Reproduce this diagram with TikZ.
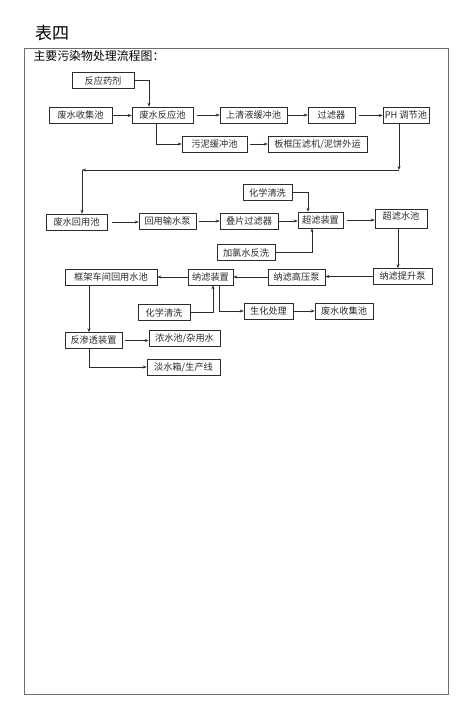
\documentclass[tikz,border=0pt]{standalone}
\usepackage{fontspec}
\usepackage{tikz}
\usetikzlibrary{arrows.meta,positioning,calc}
\newfontfamily\cjk{Noto Sans CJK SC}
\definecolor{ink}{HTML}{2B2B2B}
\definecolor{frame}{HTML}{6E6E6E}

\begin{document}
\begin{tikzpicture}[x=1pt,y=-1pt,font=\cjk\fontsize{9.2}{11}\selectfont,
    box/.style={draw=ink,line width=0.6pt,minimum width=#1,minimum height=16pt,inner sep=1.5pt,text=ink},
    arr/.style={-{Stealth[length=4pt,width=3pt]},ink,line width=0.55pt}]
  \useasboundingbox (0,0) rectangle (476,717);
  % heading and frame
  \node (title) at (52,33) {\fontsize{17}{19}\selectfont 表四};
  \draw[frame,line width=0.7pt] (24,48) rectangle (448,694);
  \node[anchor=west] (caption) at (30,56) {\fontsize{11.9}{13}\selectfont 主要污染物处理流程图：};
  % first stage
  \node[box=62] (yj) at (103,80.5) {反应药剂};
  \node[box=63] (sj1) at (80.5,115.5) {废水收集池};
  \node[box=61] (fy) at (162.5,115) {废水反应池};
  \node[box=67] (sq) at (253.5,115) {上清液缓冲池};
  \node[box=47] (gl) at (331.5,115.5) {过滤器};
  \node[box=46] (ph) at (406,115) {PH 调节池};
  \node[box=65] (wn) at (214.5,144) {污泥缓冲池};
  \node[box=99] (bk) at (317.5,144) {板框压滤机/泥饼外运};
  \draw[arr] (yj.east) -| ([xshift=-13.5]fy.north);
  \draw[arr] (sj1.east) -- (sj1.east -| fy.west);
  \draw[arr,shorten <=4pt] (fy.east) -- (fy.east -| sq.west);
  \draw[arr] (sq.east) -- (sq.east -| gl.west);
  \draw[arr,shorten <=4pt] (gl.east) -- (gl.east -| ph.west);
  \draw[arr] ([xshift=-6.5]fy.south) |- (wn.west);
  \draw[arr,shorten <=3pt] (wn.east) -- (wn.east -| bk.west);
  % back to the left
  \coordinate (c1) at (399,170);
  \coordinate (c2) at (82,170);
  \node[box=61] (hy) at (76.5,222) {废水回用池};
  \draw[arr] (ph.south -| c1) -- (c1);
  \draw[arr] (c1) -- (c2);
  \draw[arr] (c2) -- (c2 |- hy.north);
  % ultrafiltration
  \node[box=49] (hx1) at (267.5,192.5) {化学清洗};
  \node[box=57] (sb) at (167.5,221) {回用输水泵};
  \node[box=58] (dp) at (249,221) {叠片过滤器};
  \node[box=45] (cl) at (320.5,220) {超滤装置};
  \node[box=52,minimum height=19pt,text depth=6pt] (cc) at (401,218.5) {超滤水池};
  \node[box=58] (jl) at (246,252.5) {加氯水反洗};
  \draw[arr,shorten <=5pt] (hy.east) -- (hy.east -| sb.west);
  \draw[arr,shorten <=3pt] (sb.east) -- (sb.east -| dp.west);
  \draw[arr] (dp.east) -- (dp.east -| cl.west);
  \draw[arr,shorten <=4pt] (cl.east) -- (cl.east -| cc.west);
  \draw[arr] (hx1.east) -| ([xshift=-12.5]cl.north);
  \draw[arr] (jl.east) -| ([xshift=-8.5]cl.south);
  % nanofiltration
  \node[box=92] (kj) at (111,277) {框架车间回用水池};
  \node[box=45] (nl) at (210.5,277) {纳滤装置};
  \node[box=57] (gy) at (296.5,277) {纳滤高压泵};
  \node[box=59] (ts) at (402.5,276.5) {纳滤提升泵};
  \node[box=52] (hx2) at (164,312.5) {化学清洗};
  \node[box=49] (sh) at (268.5,311) {生化处理};
  \node[box=58] (sj2) at (344,311.5) {废水收集池};
  \draw[arr] ([xshift=-3]cc.south) -- ([xshift=-3]cc.south |- ts.north);
  \draw[arr] (ts.west) -- (ts.west -| gy.east);
  \draw[arr] (gy.west) -- (gy.west -| nl.east);
  \draw[arr] (nl.west) -- (nl.west -| kj.east);
  \draw[arr] (hx2.east) -| ([xshift=2.5]nl.south);
  \draw[arr] ([xshift=8.5]nl.south) |- (sh.west);
  \draw[arr] (sh.east) -- (sh.east -| sj2.west);
  % reverse osmosis
  \node[box=57] (fs) at (93.5,340.5) {反渗透装置};
  \node[box=71] (ns) at (184.5,338) {浓水池/杂用水};
  \node[box=73] (ds) at (183.5,367) {淡水箱/生产线};
  \draw[arr] ([xshift=-22]kj.south) -- ([xshift=-22]kj.south |- fs.north);
  \draw[arr,shorten <=3pt] (fs.east) -- (fs.east -| ns.west);
  \draw[arr] ([xshift=-4.5]fs.south) |- (ds.west);
\end{tikzpicture}
\end{document}
